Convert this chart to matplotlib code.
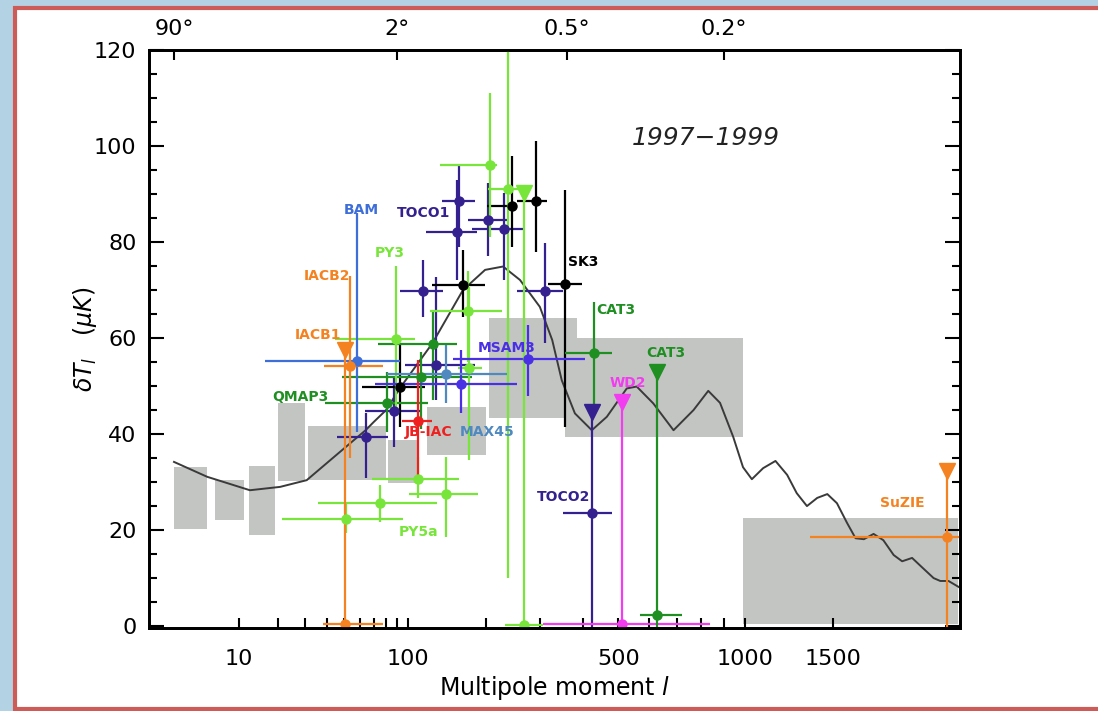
import numpy as np
import matplotlib.pyplot as plt
from matplotlib.patches import Rectangle

plt.rcParams['font.family'] = ['DejaVu Sans']
plt.rcParams['mathtext.fontset'] = 'dejavusans'

# === THEORY CURVE (multipole l, dT in uK) ===
curve_l = [2, 5, 12.3, 20.6, 30.6, 47.4, 64, 70, 80, 92, 126, 165, 198, 228, 259,
           299, 326, 348, 380, 424, 466, 526, 558, 614, 688, 767, 829, 881, 942,
           989, 1033, 1091, 1157, 1222, 1277, 1338, 1401, 1465, 1528, 1596, 1655,
           1714, 1785, 1858, 1938, 2005, 2086, 2167, 2269, 2328, 2402, 2500]
curve_t = [34.2, 31.1, 28.3, 29.0, 30.4, 36.3, 40.8, 42.5, 45.0, 49.5, 58.9, 70.0,
           74.2, 74.9, 72.1, 66.5, 59.6, 51.2, 44.3, 40.8, 43.6, 49.5, 49.9, 46.4,
           40.8, 45.0, 49.0, 46.5, 39.4, 33.1, 30.6, 32.9, 34.4, 31.5, 27.7, 25.0,
           26.7, 27.5, 25.6, 21.5, 18.3, 18.1, 19.2, 17.9, 14.8, 13.5, 14.2, 12.3,
           10.0, 9.4, 9.4, 8.1]

# === BAND-POWER BOXES ===
box_llo = [2, 6, 12, 20, 31, 82, 120, 205, 356, 990]
box_lhi = [5, 11, 19, 30, 80, 110, 200, 385, 990, 2490]
box_tlo = [20.2, 22.1, 19.0, 30.3, 30.4, 29.9, 35.6, 43.3, 39.4, 0.4]
box_thi = [33.1, 30.4, 33.3, 46.5, 41.7, 38.75, 45.7, 64.1, 60.0, 22.6]

# === MEASUREMENTS: l, dT, l range, dT range ===
toco_l = [64, 87, 130, 115.5, 160, 157, 202, 229.6, 310.6]
toco_t = [39.3, 44.9, 54.3, 69.9, 88.6, 82, 84.6, 82.8, 69.8]
toco_llo = [45.5, 63.6, 97, 92.3, 137, 118.8, 171.5, 177.5, 253]
toco_lhi = [81.9, 112, 182, 138.8, 182, 185, 234.5, 265.5, 352]
toco_tlo = [30.8, 37.4, 47.1, 64.4, 79, 72, 77, 72, 59]
toco_thi = [44.4, 52, 72.8, 76.3, 96, 93, 92.2, 90.2, 79.8]

sk_l = [92.3, 165.5, 244, 291, 355.8]
sk_t = [49.9, 71, 87.6, 88.5, 71.2]
sk_llo = [61.3, 125.2, 200.6, 253, 316.5]
sk_lhi = [117.7, 198, 253, 314, 397.5]
sk_tlo = [41.5, 64.4, 79, 78, 41.5]
sk_thi = [58.5, 78.3, 98, 101, 90.8]

qm_l = [81, 113, 126.7, 431]
qm_t = [46.5, 51.8, 58.75, 56.8]
qm_llo = [39.2, 48.4, 73.4, 356]
qm_lhi = [121, 177.5, 157, 480]
qm_tlo = [40.5, 41, 47, 45.7]
qm_thi = [53, 57, 65.8, 67.6]

py_l = [88.3, 173.6, 172.4, 206, 236, 50.8, 75, 110.6, 142.5]
py_t = [59.7, 53.7, 65.7, 96, 91, 22.4, 25.6, 30.6, 27.6]
py_llo = [44.5, 158, 123, 135, 202.7, 21.1, 35.9, 68.5, 101.3]
py_lhi = [107, 193, 225.6, 217, 265, 95.5, 131, 159, 187.5]
py_tlo = [45.5, 34.6, 55, 81.1, 10, 19.4, 21.7, 26.6, 18.6]
py_thi = [75, 70.7, 74, 111, 125, 25.5, 29.4, 35.3, 35.3]

msam_l = [162, 275]
msam_t = [50.5, 55.6]
msam_llo = [70.9, 151.6]
msam_lhi = [253, 406]
msam_tlo = [44.4, 48]
msam_thi = [57.5, 62.7]

bam_l, bam_t, bam_llo, bam_lhi, bam_tlo, bam_thi = [58.2], [55.3], [16.1], [92.3], [40.5], [86]
max_l, max_t, max_llo, max_lhi, max_tlo, max_thi = [142.5], [52.6], [80.5], [234.5], [46.5], [58.5]
jb_l, jb_t, jb_llo, jb_lhi, jb_tlo, jb_thi = [110.6], [42.7], [94], [125.2], [30.5], [55.4]
iac_l, iac_t, iac_llo, iac_lhi, iac_tlo, iac_thi = [53.5], [54.2], [38.6], [77.2], [35], [73]

# upper limits: l, triangle dT, point dT, l range of point
lim_names = ['IACB1', 'PY', 'TOCO2', 'WD2', 'CAT3', 'SuZIE']
lim_l = [50.4, 267.5, 425.5, 510.5, 626, 2387]
lim_top = [57.5, 90.2, 44.6, 46.7, 53, 32.4]
lim_t = [0.5, 0.3, 23.5, 0.4, 2.4, 18.6]
lim_llo = [38.2, 231.4, 351.5, 306.5, 569, 1356]
lim_lhi = [77.5, 306, 480.9, 837, 720, 2600]

orange = '#f58220'
navy = '#34208e'
lgreen = '#78e53a'
dgreen = '#1f8f22'
colors = {'navy': navy, 'black': 'black', 'dgreen': dgreen, 'lgreen': lgreen,
          'bam': '#3e6fd8', 'msam': '#4a30e4', 'max': '#4f89bf', 'red': '#ee2020',
          'orange': orange, 'magenta': '#f23cf0'}
lim_colors = [orange, lgreen, navy, '#f23cf0', dgreen, orange]

# === LABELS ===
lab_text = ['BAM', 'TOCO1', 'PY3', 'IACB2', 'IACB1', 'QMAP3', 'MSAM3', 'SK3', 'CAT3',
            'CAT3', 'WD2', 'JB-IAC', 'MAX45', 'TOCO2', 'SuZIE', 'PY5a']
lab_l = [60.8, 116, 83.3, 40, 35.9, 27.8, 234.5, 401.5, 493, 660, 528, 121.5, 201,
         351.5, 2010, 110.6]
lab_t = [86.7, 86, 77.8, 72.9, 60.6, 47.8, 57.9, 75.9, 65.8, 56.8, 50.7, 40.5, 40.5,
         26.9, 25.6, 19.6]
lab_c = ['bam', 'navy', 'lgreen', 'orange', 'orange', 'dgreen', 'msam', 'black',
         'dgreen', 'dgreen', 'magenta', 'red', 'max', 'navy', 'orange', 'lgreen']


def fwd(x):
    return np.sign(x) * np.abs(x) ** 0.3


def inv(x):
    return np.sign(x) * np.abs(x) ** (1 / 0.3)


def draw(ax, l, t, llo, lhi, tlo, thi, color):
    l, t = np.array(l), np.array(t)
    xerr = [l - np.array(llo), np.array(lhi) - l]
    yerr = [t - np.array(tlo), np.array(thi) - t]
    ax.errorbar(l, t, xerr=xerr, yerr=yerr, fmt='o', color=color, ms=6.5,
                lw=1.6, capsize=0, zorder=4)


fig = plt.figure(figsize=(10.98, 7.11), dpi=100, facecolor='#b3d3e4')
fig.add_artist(Rectangle((0.0141, 0.0028), 1.1, 0.9853, transform=fig.transFigure,
                         fc='white', ec='#cd5c58', lw=3, zorder=0))
ax = fig.add_axes([0.1357, 0.1167, 0.7386, 0.813])
ax.set_xscale('function', functions=(fwd, inv))
ax.set_xlim(0.806, 2508)
ax.set_ylim(-0.4, 120)

for lo, hi, tl, th in zip(box_llo, box_lhi, box_tlo, box_thi):
    ax.add_patch(Rectangle((lo, tl), hi - lo, th - tl, fc='#c3c5c3', ec='none', zorder=1))

ax.plot(curve_l, curve_t, color='#3a3a3a', lw=1.4, zorder=3)

draw(ax, toco_l, toco_t, toco_llo, toco_lhi, toco_tlo, toco_thi, colors['navy'])
draw(ax, sk_l, sk_t, sk_llo, sk_lhi, sk_tlo, sk_thi, colors['black'])
draw(ax, qm_l, qm_t, qm_llo, qm_lhi, qm_tlo, qm_thi, colors['dgreen'])
draw(ax, py_l, py_t, py_llo, py_lhi, py_tlo, py_thi, colors['lgreen'])
draw(ax, msam_l, msam_t, msam_llo, msam_lhi, msam_tlo, msam_thi, colors['msam'])
draw(ax, bam_l, bam_t, bam_llo, bam_lhi, bam_tlo, bam_thi, colors['bam'])
draw(ax, max_l, max_t, max_llo, max_lhi, max_tlo, max_thi, colors['max'])
draw(ax, jb_l, jb_t, jb_llo, jb_lhi, jb_tlo, jb_thi, colors['red'])
draw(ax, iac_l, iac_t, iac_llo, iac_lhi, iac_tlo, iac_thi, colors['orange'])

for l, top, t, lo, hi, c in zip(lim_l, lim_top, lim_t, lim_llo, lim_lhi, lim_colors):
    ax.plot([l, l], [0, top], color=c, lw=1.6, zorder=4)
    ax.plot([l], [top], 'v', color=c, ms=12, zorder=5)
    ax.errorbar([l], [t], xerr=[[l - lo], [hi - l]], fmt='o', color=c, ms=6.5,
                lw=1.6, capsize=0, zorder=4)

for s, l, t, c in zip(lab_text, lab_l, lab_t, lab_c):
    ax.text(l, t, s, color=colors[c], fontsize=10, fontweight='bold',
            ha='center', va='center', zorder=6)

ax.text(0.686, 0.848, '1997\u22121999', transform=ax.transAxes, fontsize=18,
        fontstyle='italic', ha='center', va='center', color='#222222')

# === AXES ===
ax.set_xticks([10, 100, 500, 1000, 1500])
ax.set_xticklabels(['10', '100', '500', '1000', '1500'])
ax.set_xticks([20, 30, 40, 50, 60, 70, 80, 90, 200, 300, 400, 600, 700, 800, 900],
              minor=True)
ax.set_yticks(np.arange(0, 121, 20))
ax.set_yticks(np.arange(0, 121, 5), minor=True)
ax.tick_params(axis='x', which='both', direction='in', length=7, width=1.5,
               labelsize=16, pad=15, top=False)
ax.tick_params(axis='y', which='major', direction='in', length=11, width=1.5,
               labelsize=16, pad=9, right=True)
ax.tick_params(axis='y', which='minor', direction='in', length=6, width=1.5, right=True)
for sp in ax.spines.values():
    sp.set_linewidth(2)

ax.set_xlabel('Multipole moment $l$', fontsize=17, labelpad=4)
ax.set_ylabel(r'$\delta T_l$   $(\mu K)$', fontsize=17)
ax.yaxis.set_label_coords(-0.062, 0.5)

ax2 = ax.twiny()
ax2.set_xscale('function', functions=(fwd, inv))
ax2.set_xlim(ax.get_xlim())
ax2.set_xticks([2, 90, 360, 900])
ax2.set_xticklabels(['90\u00b0', '2\u00b0', '0.5\u00b0', '0.2\u00b0'])
ax2.xaxis.set_minor_locator(plt.NullLocator())
ax2.tick_params(axis='x', direction='in', length=7, width=1.5, labelsize=16, pad=8)
for sp in ax2.spines.values():
    sp.set_linewidth(2)

fig.savefig('out.png', dpi=100, facecolor=fig.get_facecolor())
